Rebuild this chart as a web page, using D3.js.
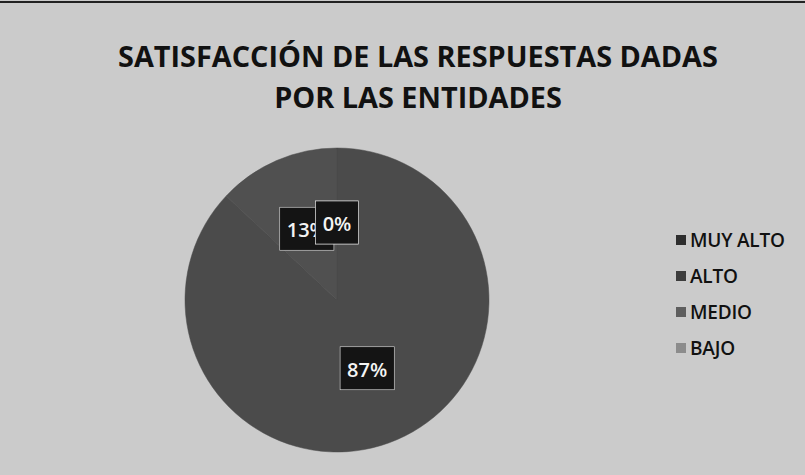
<!DOCTYPE html>
<html>
<head>
<meta charset="utf-8">
<script src="https://cdn.jsdelivr.net/npm/d3@7"></script>
<style>
  body { margin: 0; background: #cbcbcb; }
  svg { display: block; }
</style>
</head>
<body>
<div id="chart"></div>
<script>
// data
var categories = ["MUY ALTO", "ALTO", "MEDIO", "BAJO"];
var values = [0, 0, 87, 13];
var legendColors = ["#2e2e2e", "#3c3c3c", "#5e5e5e", "#8c8c8c"];
var sliceColors = ["#4a4a4a", "#4a4a4a", "#4b4b4b", "#505050"];
var titleLines = ["SATISFACCIÓN DE LAS RESPUESTAS DADAS", "POR LAS ENTIDADES"];

var width = 805, height = 475;
var cx = 337, cy = 300, radius = 152;

var svg = d3.select("#chart").append("svg")
    .attr("width", width)
    .attr("height", height);

svg.append("rect")
    .attr("width", width).attr("height", height)
    .style("fill", "#cbcbcb");

// scan border at top
svg.append("line")
    .attr("x1", 0).attr("x2", width)
    .attr("y1", 2).attr("y2", 2)
    .style("stroke", "#222").style("stroke-width", 2);

// title
var title = svg.append("g").attr("class", "title");
title.selectAll("text")
    .data(titleLines)
    .enter().append("text")
    .attr("x", 418)
    .attr("y", function(d, i) { return 67 + i * 41; })
    .attr("text-anchor", "middle")
    .style("font-family", "'Open Sans', 'DejaVu Sans', sans-serif")
    .style("font-weight", 700)
    .style("font-size", "26px")
    .style("fill", "#111")
    .text(function(d) { return d; });

// squeeze the first line to the width seen on the scan (Calibri-ish)
var t0 = title.select("text").node();
var w0 = t0.getComputedTextLength();
var fs = 26 * 600 / w0;
title.selectAll("text").style("font-size", fs + "px");

var dataset = categories.map(function(c, i) {
    return {cat: c, value: values[i], fill: sliceColors[i], idx: i};
});

var pie = d3.pie().sort(null).value(function(d) { return d.value; });
var arc = d3.arc().innerRadius(0).outerRadius(radius);
var labelArc = d3.arc().innerRadius(76).outerRadius(76);

var total = d3.sum(values);
var arcs = pie(dataset);

var g = svg.append("g").attr("transform", "translate(" + cx + "," + cy + ")");

g.selectAll("path.slice")
    .data(arcs)
    .enter().append("path")
    .attr("class", "slice")
    .attr("d", arc)
    .style("fill", function(d) { return d.data.fill; })
    .style("stroke", "#4a4a4a")
    .style("stroke-width", 0.5);

// data labels: zero labels end up drawn on top like in the scan
var labelData = arcs.slice().sort(function(a, b) { return b.data.value - a.data.value; });

var labels = g.selectAll("g.lbl")
    .data(labelData)
    .enter().append("g")
    .attr("class", "lbl")
    .attr("transform", function(d) {
        var c = labelArc.centroid(d);
        return "translate(" + c[0] + "," + c[1] + ")";
    });

labels.append("rect").attr("class", "box");
labels.append("text")
    .attr("text-anchor", "middle")
    .attr("dy", "0.35em")
    .style("font-family", "'Open Sans', 'DejaVu Sans', sans-serif")
    .style("font-weight", 600)
    .style("font-size", "20px")
    .style("fill", "#f4f4f4")
    .text(function(d) { return Math.round(d.data.value / total * 100) + "%"; });

labels.each(function() {
    var grp = d3.select(this);
    var bb = grp.select("text").node().getBBox();
    grp.select("rect.box")
        .attr("x", bb.x - 7).attr("y", bb.y - 9)
        .attr("width", bb.width + 14).attr("height", bb.height + 16)
        .style("fill", "#141414")
        .style("stroke", "#e0e0e0")
        .style("stroke-width", 0.6);
});

// legend
var legend = svg.selectAll("g.legend")
    .data(categories)
    .enter().append("g")
    .attr("class", "legend")
    .attr("transform", function(d, i) { return "translate(676," + (240 + i * 36) + ")"; });

legend.append("rect")
    .attr("x", 0).attr("y", -5)
    .attr("width", 10).attr("height", 10)
    .style("fill", function(d, i) { return legendColors[i]; });

legend.append("text")
    .attr("x", 14)
    .attr("dy", "0.36em")
    .style("font-family", "'Open Sans', 'DejaVu Sans', sans-serif")
    .style("font-weight", 600)
    .style("font-size", "19px")
    .style("letter-spacing", "-0.2px")
    .style("fill", "#111")
    .text(function(d) { return d; });
</script>
</body>
</html>
